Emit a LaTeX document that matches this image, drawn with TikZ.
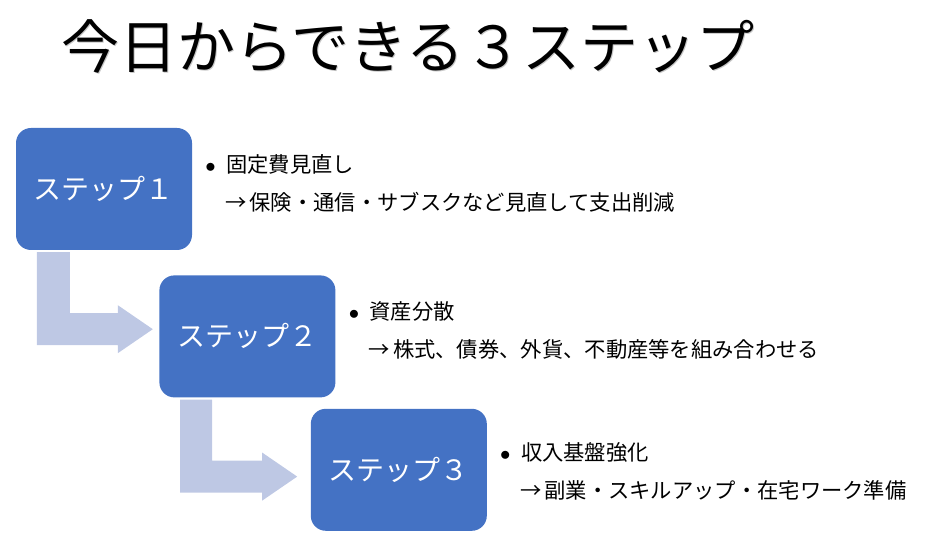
\documentclass[tikz,border=0pt]{standalone}
\usepackage{fontspec}
\setmainfont{Noto Sans CJK JP}
\usepackage{tikz}
\usetikzlibrary{calc,positioning}
\usepackage{xcolor}
\definecolor{stepblue}{RGB}{68,114,196}
\definecolor{bendblue}{RGB}{190,200,228}

\begin{document}
\begin{tikzpicture}[x=1pt, y=1pt,
	stepbox/.style = {fill=stepblue, text=white, rounded corners=15pt, minimum width=176pt, minimum height=122pt, inner sep=0pt, font=\fontsize{28pt}{30pt}\selectfont},
	note/.style = {inner sep=0pt, align=left, font=\fontsize{21.3pt}{38pt}\selectfont},
	bendarrow/.style = {fill=bendblue}]
		\useasboundingbox (0,0) rectangle (929,540);
		\node[text=black!22, anchor=west, font=\fontsize{58pt}{60pt}\selectfont] (titleshadow) at (59,492.5) {今日からできる３ステップ};
		\node[anchor=west, font=\fontsize{58pt}{60pt}\selectfont] (title) at (57.5,494) {今日からできる３ステップ};
		\node[stepbox] (1) at (104,351) {ステップ１};
		\node[stepbox] (2) [below right=25pt and -33pt of 1] {ステップ２};
		\node[stepbox] (3) [below right=11pt and -25pt of 2] {ステップ３};
		\fill[bendarrow] ($(1.south west)+(21,-2)$) -- ++(33,0) -- ++(0,-61) -- ++(48,0) -- ++(0,8) -- ++(35,-24) -- ++(-35,-24) -- ++(0,8) -- ++(-81,0) -- cycle;
		\fill[bendarrow] ($(2.south west)+(21,-2)$) -- ++(32,0) -- ++(0,-61) -- ++(50,0) -- ++(0,8) -- ++(35,-24) -- ++(-35,-24) -- ++(0,8) -- ++(-82,0) -- cycle;
		\node[note] (t1) [right=13pt of 1, yshift=6pt] {$\bullet$\hspace{10.5pt}固定費見直し\\\hspace{20pt}→\hspace{3pt}保険・通信・サブスクなど見直して支出削減};
		\node[note] (t2) [right=13pt of 2, yshift=6pt] {$\bullet$\hspace{10.5pt}資産分散\\\hspace{20pt}→\hspace{3pt}株式、債券、外貨、不動産等を組み合わせる};
		\node[note] (t3) [right=13pt of 3, yshift=-2pt] {$\bullet$\hspace{10.5pt}収入基盤強化\\\hspace{20pt}→\hspace{3pt}副業・スキルアップ・在宅ワーク準備};
	\end{tikzpicture}
\end{document}
